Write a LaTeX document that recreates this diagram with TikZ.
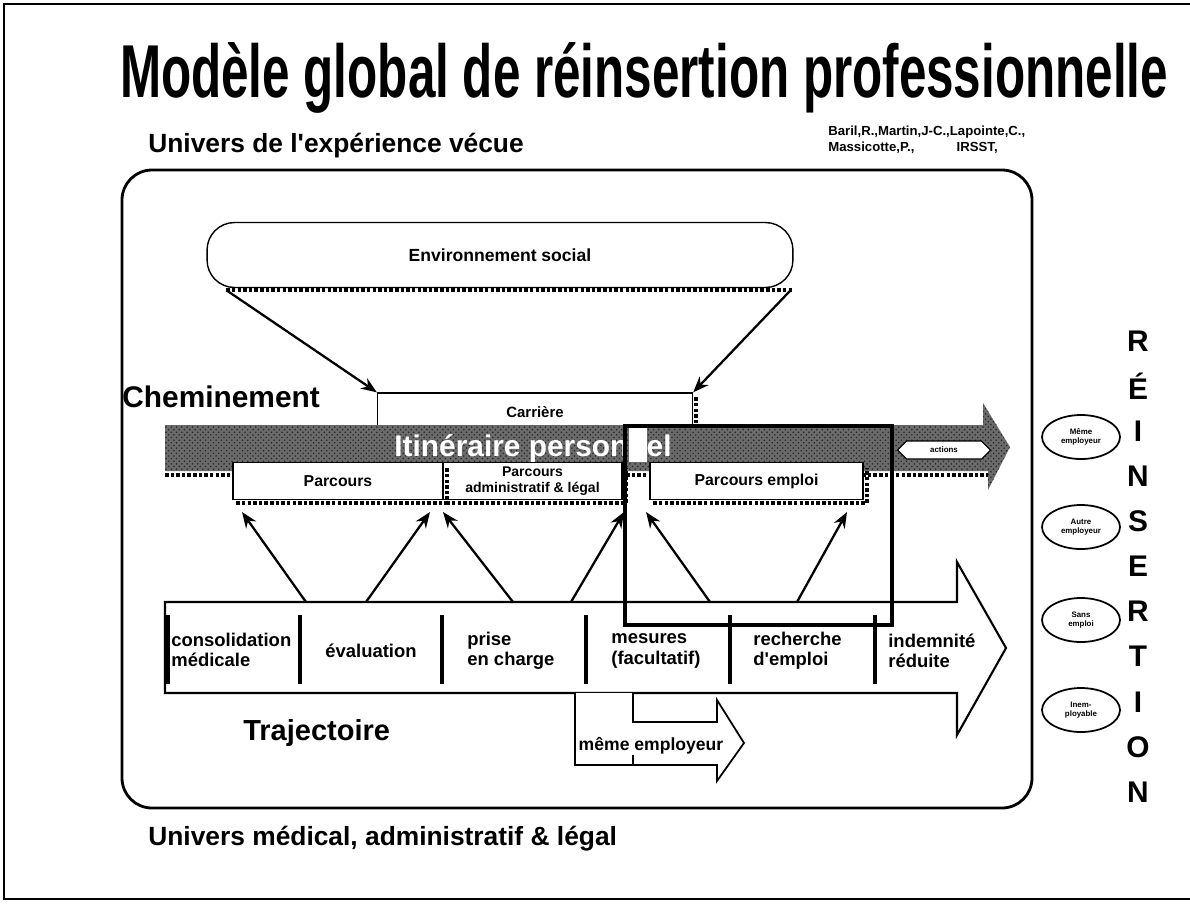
\documentclass[tikz,border=0pt]{standalone}
\usepackage{fontspec}
\setmainfont{Liberation Sans}
\usepackage{graphicx}
\usetikzlibrary{shapes.geometric}
\usetikzlibrary{shapes.arrows}
\usetikzlibrary{patterns}
\usetikzlibrary{arrows.meta}

\begin{document}
\begin{tikzpicture}[x=0.02cm, y=-0.02cm]
    \tikzset{ box/.style={draw=black, fill=white, line width=0.8pt, inner sep=0pt, align=center, font=\bfseries\fontsize{9}{10}\selectfont } }
    \tikzset{ shd/.style={line width=2.2pt, dash pattern=on 2pt off 1.2pt } }
    \tikzset{ arr/.style={line width=1.3pt, -{Stealth[length=9pt, width=7pt]} } }
    \tikzset{ cell/.style={anchor=west, inner sep=0pt, align=left, font=\bfseries\fontsize{10.5}{11.5}\selectfont } }
    \tikzset{ outc/.style={draw=black, ellipse, line width=1pt, minimum width=1.56cm, minimum height=0.88cm, inner sep=0pt, align=center, font=\bfseries\fontsize{4.5}{5.5}\selectfont } }
    \tikzset{ head/.style={inner sep=0pt, anchor=base west, font=\bfseries\fontsize{15}{18}\selectfont } }
    \tikzset{ letter/.style={inner sep=0pt, font=\bfseries\fontsize{17}{20}\selectfont } }

    \useasboundingbox (0,0) rectangle (1190,904);
    \draw[line width=1pt] (1190,4) -- (4,4) -- (4,899) -- (1190,899);

    \node[inner sep=0pt, anchor=base] (title) at (644,97) {\resizebox{20.96cm}{1.1cm}{\bfseries Modèle global de réinsertion professionnelle}};
    \node[head] (univ1) at (148,152) {Univers de l\textquotesingle expérience vécue};
    \node[inner sep=0pt, anchor=north west, align=left, font=\bfseries\fontsize{7.5}{9}\selectfont] (ref) at (828,126) {Baril,R.,Martin,J-C.,Lapointe,C.,\\Massicotte,P.,\hspace{3.2em}IRSST,};

    \draw[line width=1.6pt, rounded corners=0.6cm] (122,170) rectangle (1032,808);

    % environnement social et carriere
    \node[box, rounded corners=0.55cm, minimum width=11.72cm, minimum height=1.3cm, font=\bfseries\fontsize{10}{12}\selectfont] (env) at (500,255) {Environnement social};
    \draw[shd] ([shift={(20,2)}]env.south west) -- ([shift={(0,2)}]env.south east);
    \node[box, minimum width=6.3cm, minimum height=0.76cm, font=\bfseries\fontsize{8.5}{10}\selectfont] (car) at (535,412) {Carrière};
    \draw[shd] ([shift={(3,5)}]car.north east) -- ([shift={(3,0)}]car.south east);
    \node[head, font=\bfseries\fontsize{17}{20}\selectfont] (chem) at (122,407) {Cheminement};

    \draw[arr] ([shift={(20,2)}]env.south west) -- (car.north west);
    \draw[arr] ([shift={(-3,2)}]env.south east) -- (car.north east);

    % itineraire personnel
    \fill[black!58, postaction={pattern=crosshatch dots, pattern color=black!85}] (165,425) -- (983,425) -- (983,403) -- (1010,447) -- (988,490) -- (988,471) -- (165,471) -- cycle;
    \draw[shd] (165,475) -- (988,475);
    \node[inner sep=0pt, text=white, font=\bfseries\fontsize{17}{20}\selectfont] (itin) at (533,449) {Itinéraire personnel};
    \node[double arrow, draw=black, fill=white, line width=0.6pt, double arrow head extend=0pt, minimum height=1.86cm, minimum width=0.36cm, inner sep=1pt, font=\bfseries\fontsize{4.5}{5}\selectfont] (act) at (944,450) {actions};

    \node[box, minimum width=4.2cm, minimum height=0.74cm] (par) at (338,481) {Parcours};
    \node[box, minimum width=3.58cm, minimum height=0.74cm, font=\bfseries\fontsize{8}{9}\selectfont] (adm) at (532.5,481) {Parcours\\administratif \& légal};
    \node[box, minimum width=4.26cm, minimum height=0.74cm] (emp) at (756.5,481) {Parcours emploi};
    \foreach \b in {par,adm,emp}
        \draw[shd] ([shift={(4,3)}]\b.south west) -- ([shift={(3,3)}]\b.south east) -- ([shift={(3,6)}]\b.north east);

    % trajectoire
    \draw[line width=1.2pt, fill=white] (165,602) -- (957,602) -- (957,562) -- (1006,648) -- (957,735) -- (957,693) -- (165,693) -- cycle;
    \foreach \x in {168,300,442,586,730,875}
        \draw[line width=2.4pt] (\x,615) -- (\x,684);

    \node[cell] (cons) at (171,650) {consolidation\\médicale};
    \node[cell] (eval) at (325,651) {évaluation};
    \node[cell] (pri)  at (467,651) {prise\\en charge};
    \node[cell] (mes)  at (611,651) {mesures\\(facultatif)};
    \node[cell] (rec)  at (753,651) {recherche\\d\textquotesingle emploi};
    \node[cell] (ind)  at (888,651) {indemnité\\réduite};

    \foreach \i/\a/\b in {1/306/242, 2/366/430, 3/513/443, 4/571/624, 5/710/646, 6/797/847} {
        \coordinate (s\i) at (\a,602);
        \coordinate (e\i) at (\b,512);
        \draw[arr] (s\i) -- (e\i);
    }

    \fill[white] (629,428) rectangle (647,462);
    \node[draw=black, line width=2.6pt, minimum width=5.34cm, minimum height=3.98cm, inner sep=0pt] (focus) at (758.5,525.5) {};

    \node[head, font=\bfseries\fontsize{16.5}{20}\selectfont] (traj) at (243,740) {Trajectoire};

    \draw[line width=1pt, fill=white] (575,693) -- (575,765) -- (717,765) -- (717,781) -- (744,743) -- (717,700) -- (717,722) -- (633,722) -- (633,693);
    \draw[line width=1pt] (633,755) -- (633,765);
    \node[inner sep=0pt, font=\bfseries\fontsize{10}{12}\selectfont] (meme) at (651,746) {même employeur};

    % reinsertion
    \node[outc] (o1) at (1081,437) {Même\\employeur};
    \node[outc] (o2) at (1081,527) {Autre\\employeur};
    \node[outc] (o3) at (1081,620) {Sans\\emploi};
    \node[outc] (o4) at (1081,710) {Inem-\\ployable};
    \foreach \l [count=\i from 0] in {R,É,I,N,S,E,R,T,I,O,N}
        \node[letter] (l\i) at (1138,341+45.1*\i) {\l};

    \node[head] (univ2) at (148,845) {Univers médical, administratif \& légal};
\end{tikzpicture}
\end{document}
